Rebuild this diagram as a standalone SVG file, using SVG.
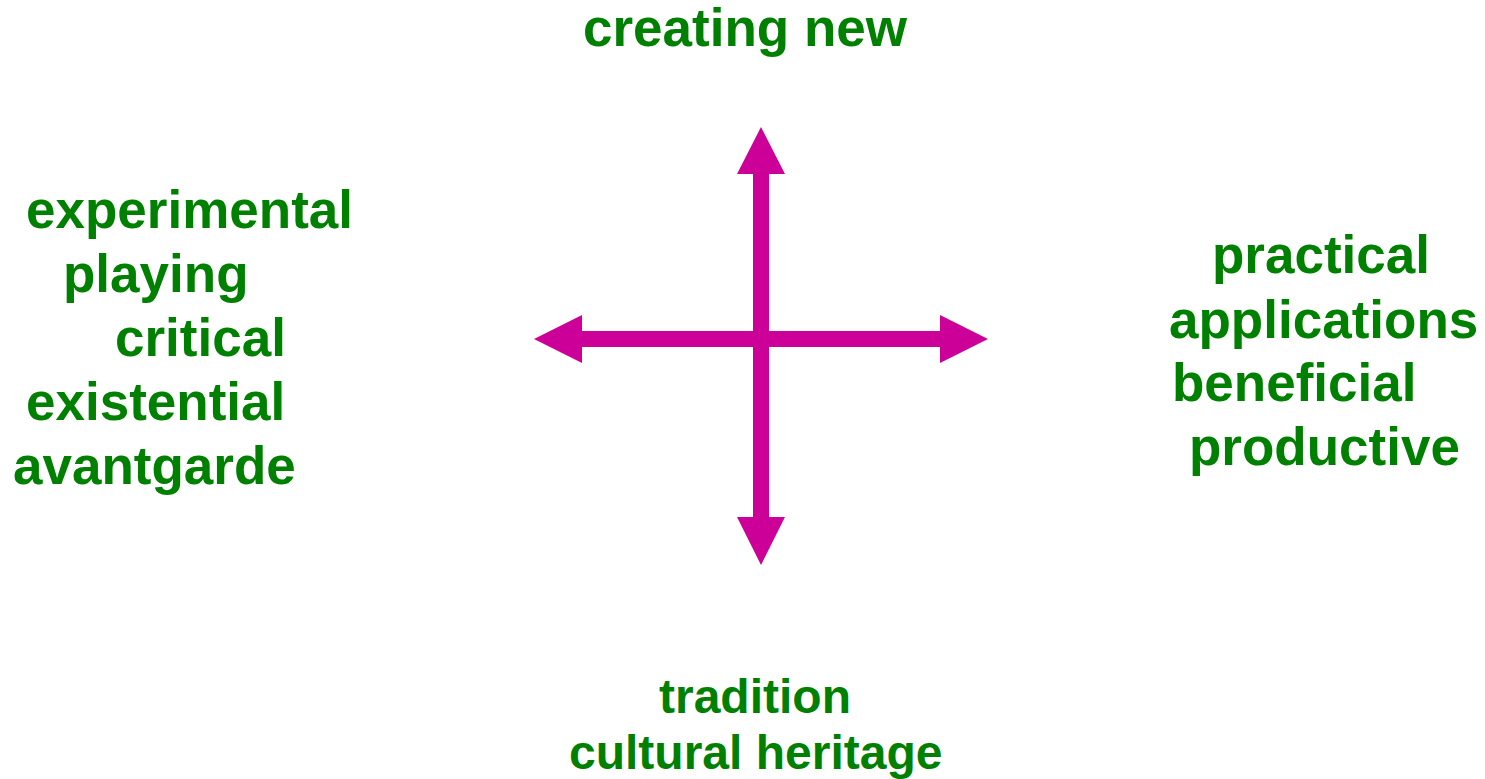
<svg xmlns="http://www.w3.org/2000/svg" width="1485" height="779" viewBox="0 0 1485 779">
<style>
.t{font-family:"Liberation Sans",Arial,sans-serif;font-weight:bold;font-size:53px;fill:#008000}
.s{font-size:48px}
.a{fill:#CC0099}
</style>
<rect width="1485" height="779" fill="#ffffff"/>
<g id="connectors">
<polygon class="a" points="753,174 737,174 761,127 785,174 769,174 769,331 940,331 940,315 988,339 940,363 940,347 769,347 769,517 785,517 761,565 737,517 753,517 753,347 582,347 582,363 534,339 582,315 582,331 753,331"/>
</g>
<g id="top"><text class="t" x="583" y="46">creating new</text></g>
<g id="left">
<text class="t" x="26" y="228">experimental</text>
<text class="t" x="63" y="292">playing</text>
<text class="t" x="115" y="356">critical</text>
<text class="t" x="26" y="420">existential</text>
<text class="t" x="13" y="484">avantgarde</text>
</g>
<g id="right">
<text class="t" x="1212" y="273">practical</text>
<text class="t" x="1169" y="338">applications</text>
<text class="t" x="1172" y="401">beneficial</text>
<text class="t" x="1189" y="465">productive</text>
</g>
<g id="bottom">
<text class="t s" x="659" y="713">tradition</text>
<text class="t s" x="569" y="769">cultural heritage</text>
</g>
</svg>
